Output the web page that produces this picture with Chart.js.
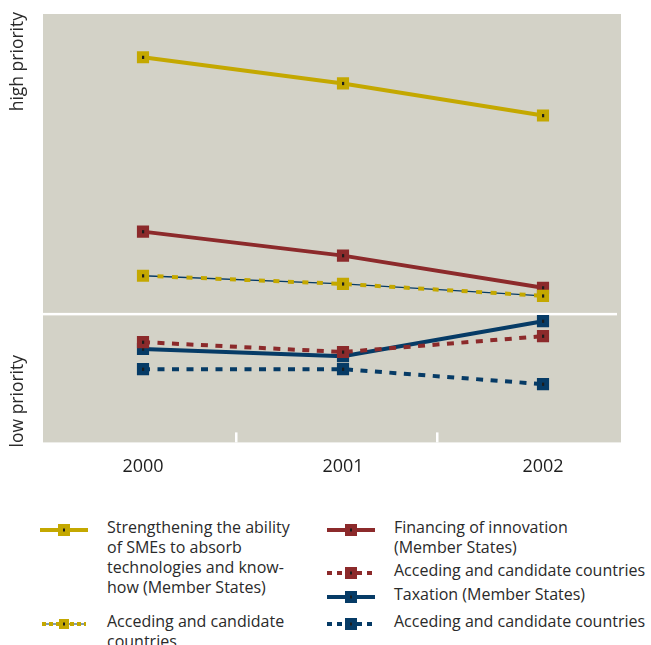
<!DOCTYPE html>
<html>
<head>
<meta charset="utf-8">
<script src="https://cdn.jsdelivr.net/npm/chart.js@4"></script>
<style>
  body { margin: 0; background: #fff; font-family: "Open Sans", sans-serif; color: #2a2a2a; }
  #wrap { position: relative; width: 651px; height: 645px; overflow: hidden; }
  #box { position: absolute; left: 0; top: 0; width: 651px; height: 492px; }
  .txt { position: absolute; font-size: 16px; line-height: 20px; white-space: nowrap; }
  .key { position: absolute; }
</style>
</head>
<body>
<div id="wrap">
  <div id="box"><canvas id="priorityChart"></canvas></div>
  <div id="legend"></div>
</div>
<script>
// years on the x axis, priority score on a hidden 0-100 scale
const years = [2000, 2001, 2002];
const smesMember = [89.9, 83.8, 76.3];
const smesAcceding = [38.9, 37.0, 34.2];
const financeMember = [49.2, 43.6, 36.1];
const financeAcceding = [23.4, 21.1, 24.8];
const taxMember = [21.8, 20.1, 28.3];
const taxAcceding = [17.1, 17.1, 13.6];
const priorityBorder = 30;   // white line between high and low priority

const gold = '#c4a800';
const red = '#8c2a2b';
const navy = '#063b66';

const pts = arr => years.map((y, i) => ({x: y, y: arr[i]}));

function series(label, values, color, dash, order) {
    return {
        label: label,
        data: pts(values),
        borderColor: color,
        backgroundColor: color,
        borderWidth: 4,
        borderDash: dash,
        pointStyle: 'rect',
        pointRadius: 8.6,
        pointBorderWidth: 0,
        pointBackgroundColor: color,
        order: order,
        tension: 0
    };
}

const datasets = [
    series('Strengthening the ability of SMEs (Member States)', smesMember, gold, [], 3),
    // thin navy line under the gold dashes
    {label: 'helper', data: pts(smesAcceding), borderColor: navy, borderWidth: 1.3,
     pointRadius: 0, order: 2, tension: 0, noDot: true},
    series('Acceding and candidate countries', smesAcceding, gold, [6, 8.5], 1),
    series('Financing of innovation (Member States)', financeMember, red, [], 2),
    series('Acceding and candidate countries', financeAcceding, red, [7, 7.5], 4),
    series('Taxation (Member States)', taxMember, navy, [], 5),
    series('Acceding and candidate countries', taxAcceding, navy, [7, 7.5], 6)
];

const decorPlugin = {
    id: 'decor',
    beforeDraw(chart) {
        const {ctx, chartArea: a, scales} = chart;
        ctx.save();
        ctx.fillStyle = '#d3d2c7';
        ctx.fillRect(a.left, a.top, a.right - a.left, a.bottom - a.top);
        // white dividing line
        const yb = scales.y.getPixelForValue(priorityBorder);
        ctx.fillStyle = '#ffffff';
        ctx.fillRect(a.left, yb - 1, a.right - a.left - 4, 2.5);
        // small white ticks between years
        [2000.465, 2001.47].forEach(v => {
            const x = scales.x.getPixelForValue(v);
            ctx.fillRect(Math.round(x) - 1, a.bottom - 10, 2.5, 10);
        });
        // axis titles
        ctx.fillStyle = '#2a2a2a';
        ctx.font = '17.5px "Open Sans", sans-serif';
        ctx.textBaseline = 'middle';
        ctx.translate(18, 0);
        ctx.rotate(-Math.PI / 2);
        ctx.textAlign = 'right';
        ctx.fillText('high priority', -a.top + 2, 0);
        ctx.textAlign = 'left';
        ctx.fillText('low priority', -a.bottom - 5, 0);
        ctx.restore();
    },
    afterDatasetDraw(chart, args) {
        const ds = chart.data.datasets[args.index];
        if (ds.noDot) return;
        const ctx = chart.ctx;
        ctx.save();
        ctx.fillStyle = '#1c1c1c';
        args.meta.data.forEach(p => ctx.fillRect(p.x - 1, p.y - 1.5, 2.2, 3.2));
        ctx.restore();
    }
};

new Chart(document.getElementById('priorityChart'), {
    type: 'line',
    data: {datasets: datasets},
    options: {
        responsive: true,
        maintainAspectRatio: false,
        animation: false,
        layout: {padding: {left: 43, right: 30, top: 14, bottom: 0}},
        plugins: {legend: {display: false}, tooltip: {enabled: false}},
        scales: {
            x: {
                type: 'linear',
                min: 1999.5,
                max: 2002.39,
                afterBuildTicks: s => { s.ticks = years.map(v => ({value: v})); },
                grid: {display: false, drawTicks: false},
                border: {display: false},
                ticks: {
                    callback: v => String(v),
                    color: '#1e1e1e',
                    padding: 14,
                    font: {family: '"Open Sans", sans-serif', size: 18}
                }
            },
            y: {display: false, min: 0, max: 100}
        }
    },
    plugins: [decorPlugin]
});

// legend (HTML, wrapped like the original)
const legendItems = [
    {x: 40, y: 527, text: 'Strengthening the ability<br>of SMEs to absorb<br>technologies and know-<br>how (Member States)', color: gold, kind: 'solid'},
    {x: 40, y: 621, text: 'Acceding and candidate<br>countries', color: gold, kind: 'goldDash'},
    {x: 327, y: 527, text: 'Financing of innovation<br>(Member States)', color: red, kind: 'solid'},
    {x: 327, y: 570, text: 'Acceding and candidate countries', color: red, kind: 'dash'},
    {x: 327, y: 594, text: 'Taxation (Member States)', color: navy, kind: 'solid'},
    {x: 327, y: 621, text: 'Acceding and candidate countries', color: navy, kind: 'dash'}
];

function keySvg(color, kind) {
    let line;
    if (kind === 'solid') {
        line = `<line x1="0" y1="7" x2="48" y2="7" stroke="${color}" stroke-width="4"/>`;
    } else if (kind === 'dash') {
        line = `<line x1="0" y1="7" x2="48" y2="7" stroke="${color}" stroke-width="4" stroke-dasharray="5 5"/>`;
    } else {
        line = `<line x1="2" y1="7" x2="46" y2="7" stroke="${navy}" stroke-width="1.2"/>` +
               `<line x1="2" y1="7" x2="46" y2="7" stroke="${color}" stroke-width="4" stroke-dasharray="4 3"/>`;
    }
    const s = kind === 'goldDash' ? 10 : 12;
    return `<svg width="48" height="14" viewBox="0 0 48 14">${line}` +
        `<rect x="${24 - s / 2}" y="${7 - s / 2}" width="${s}" height="${s}" fill="${color}"/>` +
        `<rect x="23" y="5.5" width="2" height="3" fill="#1c1c1c"/></svg>`;
}

const legend = document.getElementById('legend');
legendItems.forEach(it => {
    const k = document.createElement('div');
    k.className = 'key';
    k.style.left = it.x + 'px';
    k.style.top = (it.y - 7) + 'px';
    k.innerHTML = keySvg(it.color, it.kind);
    legend.appendChild(k);
    const t = document.createElement('div');
    t.className = 'txt';
    t.style.left = (it.x + 67) + 'px';
    t.style.top = (it.y - 10) + 'px';
    t.innerHTML = it.text;
    legend.appendChild(t);
});
</script>
</body>
</html>
